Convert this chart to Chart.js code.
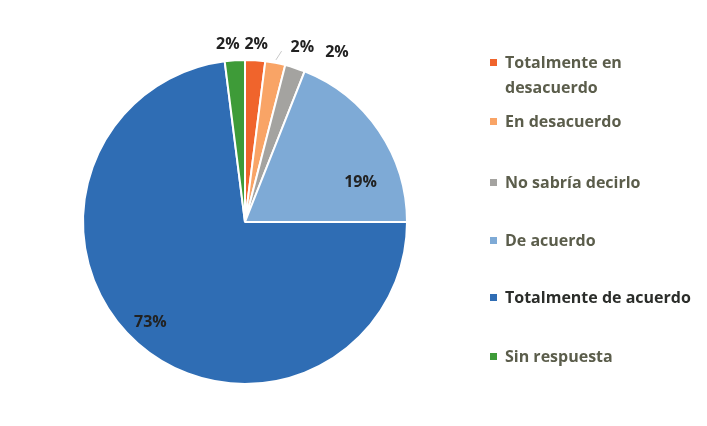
<!DOCTYPE html>
<html>
<head>
<meta charset="utf-8">
<script src="https://cdn.jsdelivr.net/npm/chart.js@4"></script>
<style>
  html, body { margin: 0; padding: 0; background: #fff; }
  #wrap { position: relative; width: 707px; height: 426px; }
  #legend { position: absolute; left: 490px; top: 0; font-family: "Open Sans", sans-serif; font-weight: 700; font-size: 16px; color: #5b5d4b; }
  .item { position: absolute; left: 0; white-space: nowrap; line-height: 25px; }
  .item span.box { position: absolute; left: 0; top: 9px; width: 7px; height: 7px; }
  .item span.txt { display: block; margin-left: 15px; }
</style>
</head>
<body>
<div id="wrap">
  <canvas id="pieChart" width="707" height="426"></canvas>
  <div id="legend"></div>
</div>
<script>
// Survey answers (percent)
const categories = ['Totalmente en desacuerdo', 'En desacuerdo', 'No sabría decirlo', 'De acuerdo', 'Totalmente de acuerdo', 'Sin respuesta'];
const values = [2, 2, 2, 19, 73, 2];
const valueLabels = ['2%', '2%', '2%', '19%', '73%', '2%'];
const colors = ['#f0642c', '#f9a466', '#a4a3a0', '#7eaad6', '#2f6db4', '#3e9b38'];

// label placement tweaks (Excel "best fit" look)
const outside = [true, true, true, false, false, true];
const nudges = [[0, 0], [24, 0], [37, 0], [15, 29], [0, 0], [-6, 0]];

const sliceLabels = {
    id: 'sliceLabels',
    afterDatasetsDraw(chart) {
        const ctx = chart.ctx;
        const arcs = chart.getDatasetMeta(0).data;
        ctx.save();
        ctx.font = 'bold 16px "Open Sans", sans-serif';
        ctx.fillStyle = '#222';
        ctx.textAlign = 'center';
        ctx.textBaseline = 'middle';
        arcs.forEach(function(arc, i) {
            const mid = (arc.startAngle + arc.endAngle) / 2;
            const r = outside[i] ? arc.outerRadius + 16 : arc.outerRadius * 0.75;
            let x = arc.x + Math.cos(mid) * r + nudges[i][0];
            let y = arc.y + Math.sin(mid) * r + nudges[i][1];
            if (i === 4) {
                x = arc.x + Math.cos(mid + 0.035) * arc.outerRadius * 0.85;
                y = arc.y + Math.sin(mid + 0.035) * arc.outerRadius * 0.85;
            }
            ctx.fillText(valueLabels[i], x, y);
        });
        // faint leader line for the crowded label
        const a = arcs[1];
        const m = (a.startAngle + a.endAngle) / 2;
        ctx.strokeStyle = '#c8c8c8';
        ctx.lineWidth = 1;
        ctx.beginPath();
        ctx.moveTo(a.x + Math.cos(m) * (a.outerRadius + 3), a.y + Math.sin(m) * (a.outerRadius + 3));
        ctx.lineTo(a.x + Math.cos(m) * (a.outerRadius + 12) + 4, a.y + Math.sin(m) * (a.outerRadius + 12));
        ctx.stroke();
        ctx.restore();
    }
};

new Chart(document.getElementById('pieChart').getContext('2d'), {
    type: 'pie',
    data: {
        labels: categories,
        datasets: [{
            data: values,
            backgroundColor: colors,
            borderColor: '#fff',
            borderWidth: 2
        }]
    },
    options: {
        responsive: false,
        animation: false,
        layout: { padding: { left: 82, right: 299, top: 59, bottom: 41 } },
        plugins: {
            legend: { display: false },
            tooltip: { enabled: false }
        }
    },
    plugins: [sliceLabels]
});

// HTML legend, so the first label can wrap like the original
const legendTops = [50, 109, 170, 228, 285, 344];
const legendText = [['Totalmente en', 'desacuerdo'], ['En desacuerdo'], ['No sabría decirlo'], ['De acuerdo'], ['Totalmente de acuerdo'], ['Sin respuesta']];
const legendEl = document.getElementById('legend');
categories.forEach(function(c, i) {
    const item = document.createElement('div');
    item.className = 'item';
    item.style.top = legendTops[i] + 'px';
    if (i === 4) item.style.color = '#2b2d2a';
    item.innerHTML = '<span class="box" style="background:' + colors[i] + '"></span>' +
        '<span class="txt">' + legendText[i].join('<br>') + '</span>';
    legendEl.appendChild(item);
});
</script>
</body>
</html>
